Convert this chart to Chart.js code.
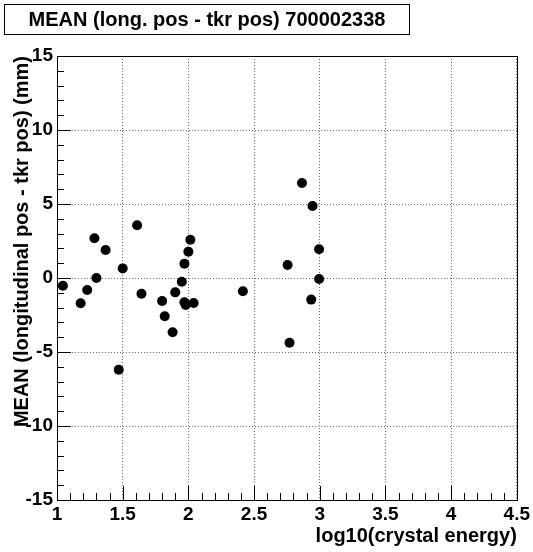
<!DOCTYPE html>
<html>
<head>
<meta charset="utf-8">
<script src="https://cdn.jsdelivr.net/npm/chart.js@4/dist/chart.umd.min.js"></script>
<style>
html, body { margin: 0; padding: 0; background: #fff; }
</style>
</head>
<body>
<canvas id="chart" width="533" height="552"></canvas>
<script>
const titleText = "MEAN (long. pos - tkr pos) 700002338";
const xLabel = "log10(crystal energy)";
const yLabel = "MEAN (longitudinal pos - tkr pos) (mm)";

// log10(crystal energy) of each point
const energyLog = [1.045, 1.18, 1.23, 1.285, 1.30, 1.37, 1.50, 1.47, 1.61, 1.643,
                   1.80, 1.82, 1.88, 1.90, 1.95, 1.97, 1.97, 1.98, 2.00, 2.015,
                   2.04, 2.415, 2.755, 2.865, 2.945, 2.995, 2.995, 2.935, 2.77];
// mean (long. pos - tkr pos) in mm
const meanDiff = [-0.52, -1.71, -0.81, 2.68, 0.0, 1.89, 0.65, -6.2, 3.56, -1.06,
                  -1.55, -2.59, -3.67, -0.97, -0.25, 0.97, -1.64, -1.82, 1.78, 2.59,
                  -1.69, -0.9, 0.88, 6.42, 4.86, 1.94, -0.07, -1.46, -4.37];

const xRange = [1, 4.5];
const yRange = [-15, 15];

const points = energyLog.map((x, i) => ({x: x, y: meanDiff[i]}));

const tickFont = {family: "'Liberation Sans', Arial, sans-serif", size: 19, weight: "bold"};
const titleFont = {family: "'Liberation Sans', Arial, sans-serif", size: 20, weight: "bold"};

// frame, inner tick marks and the boxed title, ROOT style
const rootFrame = {
    id: "rootFrame",
    afterDraw(chart) {
        const ctx = chart.ctx;
        const a = chart.chartArea;
        const xs = chart.scales.x;
        const ys = chart.scales.y;
        ctx.save();
        ctx.strokeStyle = "#000";
        ctx.lineWidth = 1;

        ctx.beginPath();
        for (let i = 0; i <= 35; i++) {
            const px = Math.round(xs.getPixelForValue(1 + i / 10)) + 0.5;
            const len = i % 5 === 0 ? 14 : 7;
            ctx.moveTo(px, a.bottom);
            ctx.lineTo(px, a.bottom - len);
        }
        for (let v = -15; v <= 15; v++) {
            const py = Math.round(ys.getPixelForValue(v)) + 0.5;
            const len = v % 5 === 0 ? 14 : 7;
            ctx.moveTo(a.left, py);
            ctx.lineTo(a.left + len, py);
        }
        ctx.stroke();

        ctx.strokeRect(Math.round(a.left) + 0.5, Math.round(a.top) + 0.5,
                       Math.round(a.right - a.left), Math.round(a.bottom - a.top));

        ctx.fillStyle = "#fff";
        ctx.fillRect(4, 4, 405, 30);
        ctx.strokeRect(4.5, 4.5, 405, 30);
        ctx.fillStyle = "#000";
        ctx.font = "bold 20px 'Liberation Sans', Arial, sans-serif";
        ctx.textAlign = "center";
        ctx.textBaseline = "middle";
        ctx.fillText(titleText, 207, 20);
        ctx.restore();
    }
};

const plainLabel = value => String(Math.round(value * 10) / 10);

new Chart(document.getElementById("chart").getContext("2d"), {
    type: "scatter",
    data: {
        datasets: [{
            data: points,
            backgroundColor: "#000",
            borderColor: "#000",
            pointRadius: 5,
            pointHoverRadius: 5,
            borderWidth: 0
        }]
    },
    options: {
        responsive: false,
        animation: false,
        devicePixelRatio: 1,
        layout: {padding: {top: 56, right: 15, left: 0, bottom: 0}},
        plugins: {
            legend: {display: false},
            tooltip: {enabled: false}
        },
        scales: {
            x: {
                type: "linear",
                min: xRange[0],
                max: xRange[1],
                afterFit(scale) { scale.height = 52; },
                ticks: {stepSize: 0.5, color: "#000", font: tickFont, padding: 3,
                        maxRotation: 0, autoSkip: false, callback: plainLabel},
                grid: {drawTicks: false, color: "#666", lineWidth: 1},
                border: {display: false, dash: [1, 2]},
                title: {display: true, text: xLabel, align: "end", color: "#000",
                        font: titleFont, padding: {top: 0, bottom: 4}}
            },
            y: {
                type: "linear",
                min: yRange[0],
                max: yRange[1],
                afterFit(scale) { scale.width = 57; },
                ticks: {stepSize: 5, color: "#000", font: tickFont, padding: 4,
                        autoSkip: false, callback: plainLabel},
                grid: {drawTicks: false, color: "#666", lineWidth: 1},
                border: {display: false, dash: [1, 2]},
                title: {display: true, text: yLabel, align: "end", color: "#000",
                        font: titleFont, padding: {top: 10, bottom: 0}}
            }
        }
    },
    plugins: [rootFrame]
});
</script>
</body>
</html>
